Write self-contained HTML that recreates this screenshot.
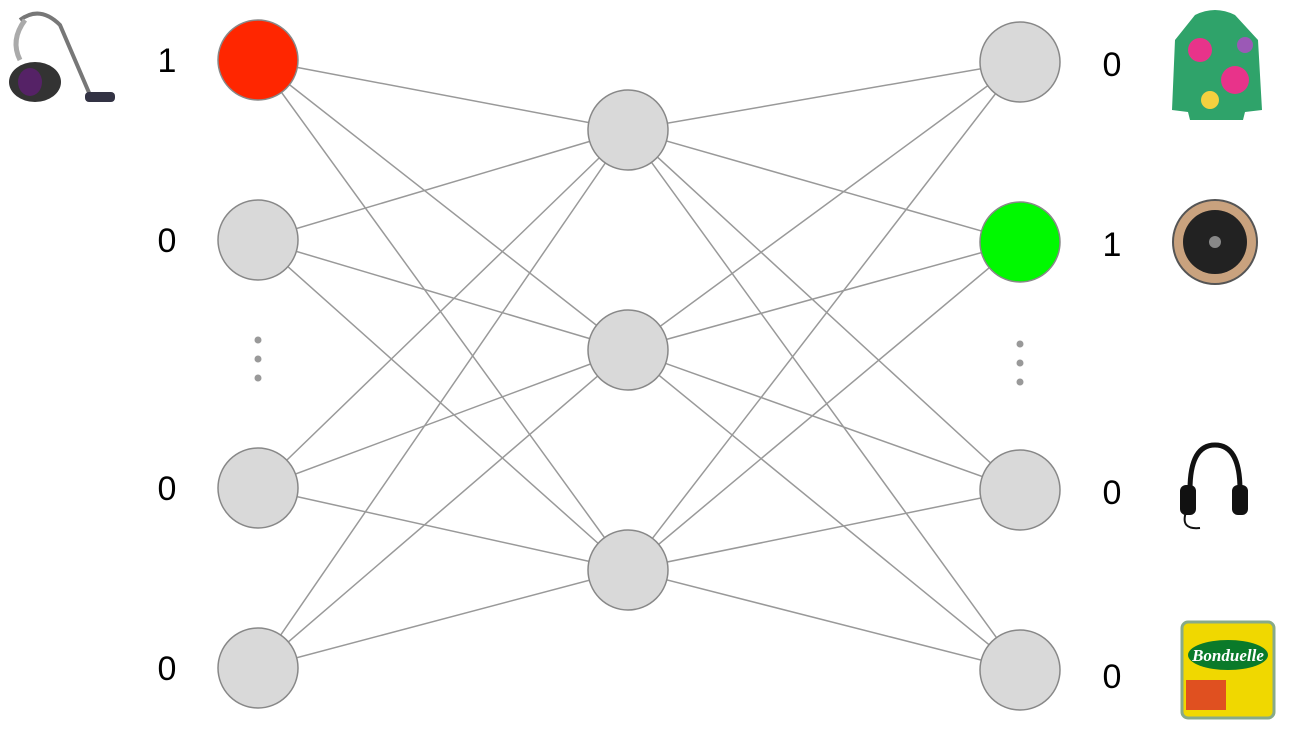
<!DOCTYPE html>
<html><head><meta charset="utf-8"><style>
body{margin:0;background:#fff;width:1290px;height:732px;overflow:hidden}
</style></head><body>
<svg width="1290" height="732" xmlns="http://www.w3.org/2000/svg">
<g stroke="#999" stroke-width="1.5">
<!-- left to middle -->
<line x1="258" y1="60" x2="628" y2="130"/><line x1="258" y1="60" x2="628" y2="350"/><line x1="258" y1="60" x2="628" y2="570"/>
<line x1="258" y1="240" x2="628" y2="130"/><line x1="258" y1="240" x2="628" y2="350"/><line x1="258" y1="240" x2="628" y2="570"/>
<line x1="258" y1="488" x2="628" y2="130"/><line x1="258" y1="488" x2="628" y2="350"/><line x1="258" y1="488" x2="628" y2="570"/>
<line x1="258" y1="668" x2="628" y2="130"/><line x1="258" y1="668" x2="628" y2="350"/><line x1="258" y1="668" x2="628" y2="570"/>
<!-- middle to right -->
<line x1="628" y1="130" x2="1020" y2="62"/><line x1="628" y1="130" x2="1020" y2="242"/><line x1="628" y1="130" x2="1020" y2="490"/><line x1="628" y1="130" x2="1020" y2="670"/>
<line x1="628" y1="350" x2="1020" y2="62"/><line x1="628" y1="350" x2="1020" y2="242"/><line x1="628" y1="350" x2="1020" y2="490"/><line x1="628" y1="350" x2="1020" y2="670"/>
<line x1="628" y1="570" x2="1020" y2="62"/><line x1="628" y1="570" x2="1020" y2="242"/><line x1="628" y1="570" x2="1020" y2="490"/><line x1="628" y1="570" x2="1020" y2="670"/>
</g>
<g stroke="#888" stroke-width="1.5" fill="#d9d9d9">
<circle cx="258" cy="60" r="40" fill="#ff2600"/>
<circle cx="258" cy="240" r="40"/><circle cx="258" cy="488" r="40"/><circle cx="258" cy="668" r="40"/>
<circle cx="628" cy="130" r="40"/><circle cx="628" cy="350" r="40"/><circle cx="628" cy="570" r="40"/>
<circle cx="1020" cy="62" r="40"/><circle cx="1020" cy="242" r="40" fill="#00f900"/><circle cx="1020" cy="490" r="40"/><circle cx="1020" cy="670" r="40"/>
</g>
<g fill="#999">
<circle cx="258" cy="340" r="3.5"/><circle cx="258" cy="359" r="3.5"/><circle cx="258" cy="378" r="3.5"/>
<circle cx="1020" cy="344" r="3.5"/><circle cx="1020" cy="363" r="3.5"/><circle cx="1020" cy="382" r="3.5"/>
</g>
<g font-family="Liberation Sans, sans-serif" font-size="34" fill="#000" text-anchor="middle">
<text x="167" y="72">1</text><text x="167" y="252">0</text><text x="167" y="500">0</text><text x="167" y="680">0</text>
<text x="1112" y="76">0</text><text x="1112" y="256">1</text><text x="1112" y="504">0</text><text x="1112" y="688">0</text>
</g>
<!-- vacuum -->
<g>
<path d="M20 20 Q40 5 60 25 L90 95" stroke="#777" stroke-width="4" fill="none"/>
<ellipse cx="35" cy="82" rx="26" ry="20" fill="#333"/>
<ellipse cx="30" cy="82" rx="12" ry="14" fill="#552266"/>
<path d="M20 60 Q10 40 25 20" stroke="#aaa" stroke-width="5" fill="none"/>
<rect x="85" y="92" width="30" height="10" rx="4" fill="#334"/>
</g>
<!-- jacket -->
<g>
<path d="M1195 15 Q1215 5 1235 15 L1258 40 L1262 110 L1245 112 L1243 120 L1190 120 L1188 112 L1172 110 L1175 40 Z" fill="#2fa36a"/>
<circle cx="1200" cy="50" r="12" fill="#e8338a"/><circle cx="1235" cy="80" r="14" fill="#e8338a"/><circle cx="1210" cy="100" r="9" fill="#f4d03f"/><circle cx="1245" cy="45" r="8" fill="#9b59b6"/>
</g>
<!-- robot vacuum -->
<circle cx="1215" cy="242" r="42" fill="#c9a27e" stroke="#555" stroke-width="2"/>
<circle cx="1215" cy="242" r="32" fill="#222"/>
<circle cx="1215" cy="242" r="6" fill="#888"/>
<!-- headphones -->
<g fill="none" stroke="#111" stroke-width="5">
<path d="M1190 490 Q1190 445 1215 445 Q1240 445 1240 490"/>
</g>
<rect x="1180" y="485" width="16" height="30" rx="6" fill="#111"/>
<rect x="1232" y="485" width="16" height="30" rx="6" fill="#111"/>
<path d="M1186 512 Q1180 530 1200 528" stroke="#111" stroke-width="2" fill="none"/>
<!-- can -->
<rect x="1182" y="622" width="92" height="96" rx="6" fill="#f0d800" stroke="#8a8" stroke-width="3"/>
<rect x="1186" y="680" width="40" height="30" fill="#e05020"/>
<ellipse cx="1228" cy="655" rx="40" ry="15" fill="#0a7a2a"/>
<text x="1228" y="661" font-family="Liberation Serif, serif" font-style="italic" font-weight="bold" font-size="17" fill="#fff" text-anchor="middle">Bonduelle</text>
</svg>
</body></html>
